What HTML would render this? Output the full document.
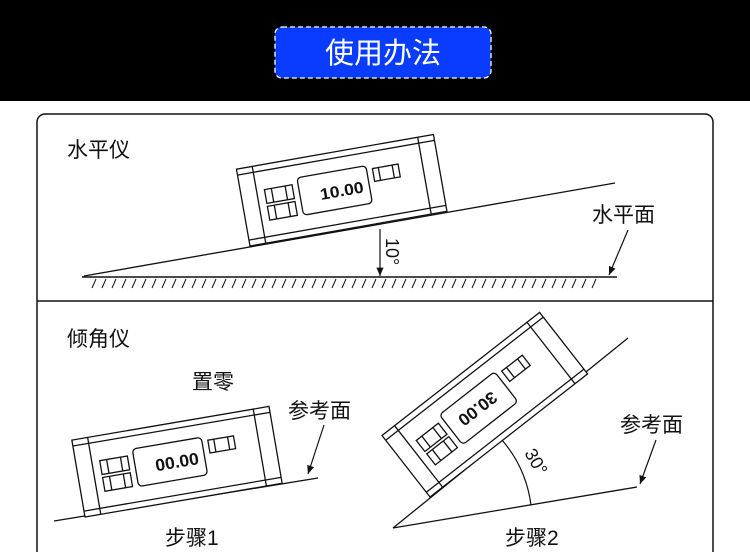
<!DOCTYPE html>
<html><head><meta charset="utf-8"><style>
html,body{margin:0;padding:0;background:#fff}
svg{display:block}
text{font-family:"Liberation Sans","Noto Sans CJK SC",sans-serif;fill:#111}
</style></head><body>
<svg width="750" height="552" viewBox="0 0 750 552" xmlns="http://www.w3.org/2000/svg">
<defs>
<g id="dev" fill="none" stroke="#111" stroke-width="1.3">
  <rect x="0" y="-78" width="200" height="78" fill="#fff"/>
  <line x1="16" y1="-78" x2="16" y2="0"/>
  <line x1="184" y1="-78" x2="184" y2="0"/>
  <line x1="0" y1="-72" x2="200" y2="-72"/>
  <line x1="0" y1="-6" x2="200" y2="-6"/>
  <rect x="58" y="-59" width="70" height="38" rx="4"/>
  <rect x="24" y="-53" width="28" height="14"/>
  <line x1="31" y1="-53" x2="31" y2="-39"/><line x1="45" y1="-53" x2="45" y2="-39"/>
  <rect x="24" y="-36" width="28" height="14"/>
  <line x1="31" y1="-36" x2="31" y2="-22"/><line x1="45" y1="-36" x2="45" y2="-22"/>
  <rect x="134" y="-55" width="26" height="13"/>
  <line x1="140" y1="-55" x2="140" y2="-42"/><line x1="154" y1="-55" x2="154" y2="-42"/>
</g>
<marker id="ar" markerWidth="8" markerHeight="8" refX="7" refY="4" orient="auto"><path d="M0,1 L7,4 L0,7" fill="#111"/></marker>
</defs>
<rect x="0" y="0" width="750" height="101" fill="#000"/>
<rect x="275" y="27" width="216" height="51" rx="7" fill="#0a3cff" stroke="#fff" stroke-width="1.3" stroke-dasharray="5,3"/>
<text x="383" y="63" text-anchor="middle" font-size="29" style="fill:#fff">使用办法</text>

<rect x="37" y="114" width="676" height="460" rx="8" fill="#fff" stroke="#111" stroke-width="1.5"/>
<line x1="37" y1="301" x2="713" y2="301" stroke="#111" stroke-width="1.5"/>

<text x="67" y="157" font-size="21">水平仪</text>
<line x1="82" y1="277" x2="617" y2="277" stroke="#111" stroke-width="1.5"/>
<g stroke="#111" stroke-width="1">
<path d="M96,279 l-4,9 M106,279 l-4,9 M116,279 l-4,9 M126,279 l-4,9 M136,279 l-4,9 M146,279 l-4,9 M156,279 l-4,9 M166,279 l-4,9 M176,279 l-4,9 M186,279 l-4,9 M196,279 l-4,9 M206,279 l-4,9 M216,279 l-4,9 M226,279 l-4,9 M236,279 l-4,9 M246,279 l-4,9 M256,279 l-4,9 M266,279 l-4,9 M276,279 l-4,9 M286,279 l-4,9 M296,279 l-4,9 M306,279 l-4,9 M316,279 l-4,9 M326,279 l-4,9 M336,279 l-4,9 M346,279 l-4,9 M356,279 l-4,9 M366,279 l-4,9 M376,279 l-4,9 M386,279 l-4,9 M396,279 l-4,9 M406,279 l-4,9 M416,279 l-4,9 M426,279 l-4,9 M436,279 l-4,9 M446,279 l-4,9 M456,279 l-4,9 M466,279 l-4,9 M476,279 l-4,9 M486,279 l-4,9 M496,279 l-4,9 M506,279 l-4,9 M516,279 l-4,9 M526,279 l-4,9 M536,279 l-4,9 M546,279 l-4,9 M556,279 l-4,9 M566,279 l-4,9 M576,279 l-4,9 M586,279 l-4,9 M596,279 l-4,9"/>
</g>
<line x1="84" y1="276" x2="615" y2="183" stroke="#111" stroke-width="1.3"/>
<g transform="translate(250,246) rotate(-10)">
<use href="#dev"/>
<text x="122" y="-33" text-anchor="end" font-size="16" textLength="44" lengthAdjust="spacingAndGlyphs" style="font-weight:bold">10.00</text>
</g>
<line x1="380" y1="229" x2="380" y2="276" stroke="#111" stroke-width="1.2" marker-end="url(#ar)"/>
<text font-size="18" transform="translate(386,238) rotate(90)">10°</text>
<text x="592" y="222" font-size="21">水平面</text>
<line x1="628" y1="230" x2="609" y2="275" stroke="#111" stroke-width="1.2" marker-end="url(#ar)"/>

<text x="67" y="346" font-size="21">倾角仪</text>
<text x="192" y="389" font-size="21">置零</text>
<line x1="54" y1="521" x2="318" y2="478" stroke="#111" stroke-width="1.3"/>
<g transform="translate(85,517) rotate(-9.7)">
<use href="#dev"/>
<text x="122" y="-33" text-anchor="end" font-size="17" textLength="44" lengthAdjust="spacingAndGlyphs" style="font-weight:bold">00.00</text>
</g>
<text x="288" y="418" font-size="21">参考面</text>
<line x1="324" y1="425" x2="308" y2="474" stroke="#111" stroke-width="1.2" marker-end="url(#ar)"/>
<text x="165" y="545" font-size="21">步骤1</text>

<line x1="393" y1="528" x2="637" y2="487" stroke="#111" stroke-width="1.3"/>
<line x1="393" y1="528" x2="628" y2="338" stroke="#111" stroke-width="1.3"/>
<g transform="translate(430,497) rotate(-38)">
<use href="#dev"/>
<text transform="translate(70,-46) rotate(180)" text-anchor="end" font-size="17" textLength="44" lengthAdjust="spacingAndGlyphs" style="font-weight:bold">30.00</text>
</g>
<path d="M502,440 A125,125 0 0 1 531,505" fill="none" stroke="#111" stroke-width="1.2"/>
<text font-size="18" transform="translate(524,453) rotate(60)">30°</text>
<text x="620" y="432" font-size="21">参考面</text>
<line x1="656" y1="440" x2="640" y2="484" stroke="#111" stroke-width="1.2" marker-end="url(#ar)"/>
<text x="505" y="545" font-size="21">步骤2</text>
</svg>
</body></html>
